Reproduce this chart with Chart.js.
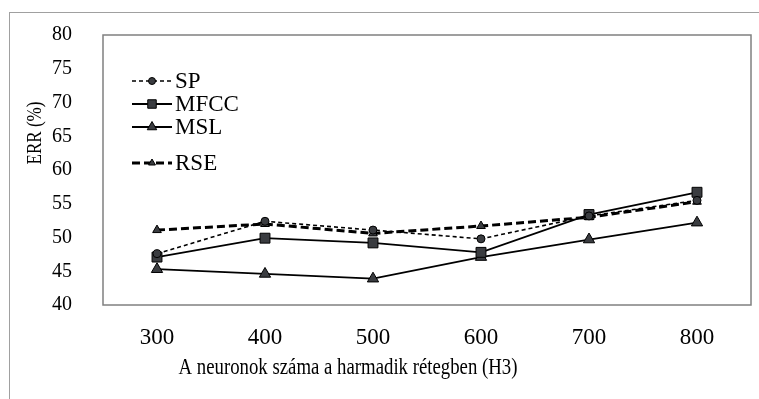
<!DOCTYPE html>
<html>
<head>
<meta charset="utf-8">
<script src="https://cdn.jsdelivr.net/npm/chart.js@4"></script>
<style>
  body { margin: 0; background: #fff; }
  #wrap { position: relative; width: 759px; height: 399px; overflow: hidden; }
  #frame { position: absolute; left: 9px; top: 12px; width: 800px; height: 500px; border: 1px solid #a0a0a0; }
  canvas { position: absolute; left: 0; top: 0; }
</style>
</head>
<body>
<div id="wrap">
  <div id="frame"></div>
  <canvas id="errChart" width="759" height="399"></canvas>
</div>
<script>
// neurons in the third layer (H3)
const neurons = ['300', '400', '500', '600', '700', '800'];
const spVals   = [47.6, 52.4, 51.1, 49.8, 53.2, 55.5];
const mfccVals = [47.1, 49.9, 49.2, 47.8, 53.4, 56.7];
const mslVals  = [45.3, 44.6, 43.9, 47.1, 49.7, 52.2];
const rseVals  = [51.1, 52.0, 50.6, 51.7, 53.0, 55.3];
const yTicks = [40, 45, 50, 55, 60, 65, 70, 75, 80];

const serif = '"Liberation Serif", "Times New Roman", serif';
const markFill = '#3a3c40';

// draws text squeezed to a given width (the original is a bit condensed)
function squeezedText(c, text, x, y, width, rot) {
    c.save();
    c.translate(x, y);
    if (rot) c.rotate(rot);
    const w = c.measureText(text).width;
    c.scale(width / w, 1);
    c.fillText(text, 0, 0);
    c.restore();
}

function drawMark(c, style, r, x, y) {
    Chart.helpers.drawPoint(c, { pointStyle: style, radius: r, rotation: 0, borderWidth: 1 }, x, y);
}

// plot box, axis titles and the inset legend
const decorPlugin = {
    id: 'decor',
    beforeDatasetsDraw(chart) {
        const a = chart.chartArea;
        const c = chart.ctx;
        c.save();
        c.strokeStyle = '#808080';
        c.lineWidth = 1.5;
        c.strokeRect(a.left, a.top, a.right - a.left, a.bottom - a.top);
        c.restore();
    },
    afterDraw(chart) {
        const c = chart.ctx;
        c.save();
        c.fillStyle = '#000';
        c.font = '23px ' + serif;
        c.textAlign = 'center';
        c.textBaseline = 'middle';
        squeezedText(c, 'A neuronok száma a harmadik rétegben (H3)', 348, 368, 339, 0);
        c.font = '22px ' + serif;
        squeezedText(c, 'ERR (%)', 35, 133, 63, -Math.PI / 2);
        c.restore();

        // legend
        const rows = [81, 104, 127, 163];
        chart.data.datasets.forEach((ds, i) => {
            const y = rows[i];
            c.save();
            c.strokeStyle = '#000';
            c.lineWidth = ds.borderWidth;
            c.setLineDash(ds.borderDash || []);
            c.beginPath();
            c.moveTo(132, y);
            c.lineTo(172, y);
            c.stroke();
            c.setLineDash([]);
            c.fillStyle = markFill;
            c.strokeStyle = '#000';
            c.lineWidth = 1;
            drawMark(c, ds.pointStyle, ds.legendRadius, 152, y);
            c.fillStyle = '#000';
            c.font = '23px ' + serif;
            c.textAlign = 'left';
            c.textBaseline = 'middle';
            c.fillText(ds.label, 175, y + 1);
            c.restore();
        });
    }
};

new Chart(document.getElementById('errChart'), {
    type: 'line',
    data: {
        labels: neurons,
        datasets: [
            { label: 'SP', data: spVals, borderColor: '#000', borderWidth: 1.6, borderDash: [4, 3],
              pointStyle: 'circle', pointRadius: 4, legendRadius: 3.5,
              pointBackgroundColor: markFill, pointBorderColor: '#000', pointBorderWidth: 1 },
            { label: 'MFCC', data: mfccVals, borderColor: '#000', borderWidth: 1.8,
              pointStyle: 'rect', pointRadius: 7, legendRadius: 6,
              pointBackgroundColor: markFill, pointBorderColor: '#000', pointBorderWidth: 1 },
            { label: 'MSL', data: mslVals, borderColor: '#000', borderWidth: 1.8,
              pointStyle: 'triangle', pointRadius: 6.5, legendRadius: 5.5,
              pointBackgroundColor: markFill, pointBorderColor: '#000', pointBorderWidth: 1 },
            { label: 'RSE', data: rseVals, borderColor: '#000', borderWidth: 3, borderDash: [8, 4],
              pointStyle: 'triangle', pointRadius: 5, legendRadius: 4,
              pointBackgroundColor: markFill, pointBorderColor: '#000', pointBorderWidth: 1 }
        ]
    },
    options: {
        responsive: false,
        animation: false,
        layout: { padding: { top: 22, right: 0, left: 0, bottom: 0 } },
        plugins: { legend: { display: false }, tooltip: { enabled: false } },
        elements: { line: { tension: 0 } },
        scales: {
            x: {
                offset: true,
                grid: { display: false },
                border: { display: false },
                ticks: { color: '#000', font: { family: serif, size: 23 }, padding: 11 },
                afterFit(scale) { scale.height = 94; }
            },
            y: {
                min: 40,
                max: 80,
                afterBuildTicks(scale) { scale.ticks = yTicks.map(v => ({ value: v })); },
                grid: { display: false },
                border: { display: false },
                ticks: { color: '#000', font: { family: serif, size: 20 }, padding: 23 },
                afterFit(scale) { scale.width = 103; }
            }
        }
    },
    plugins: [decorPlugin]
});
</script>
</body>
</html>
